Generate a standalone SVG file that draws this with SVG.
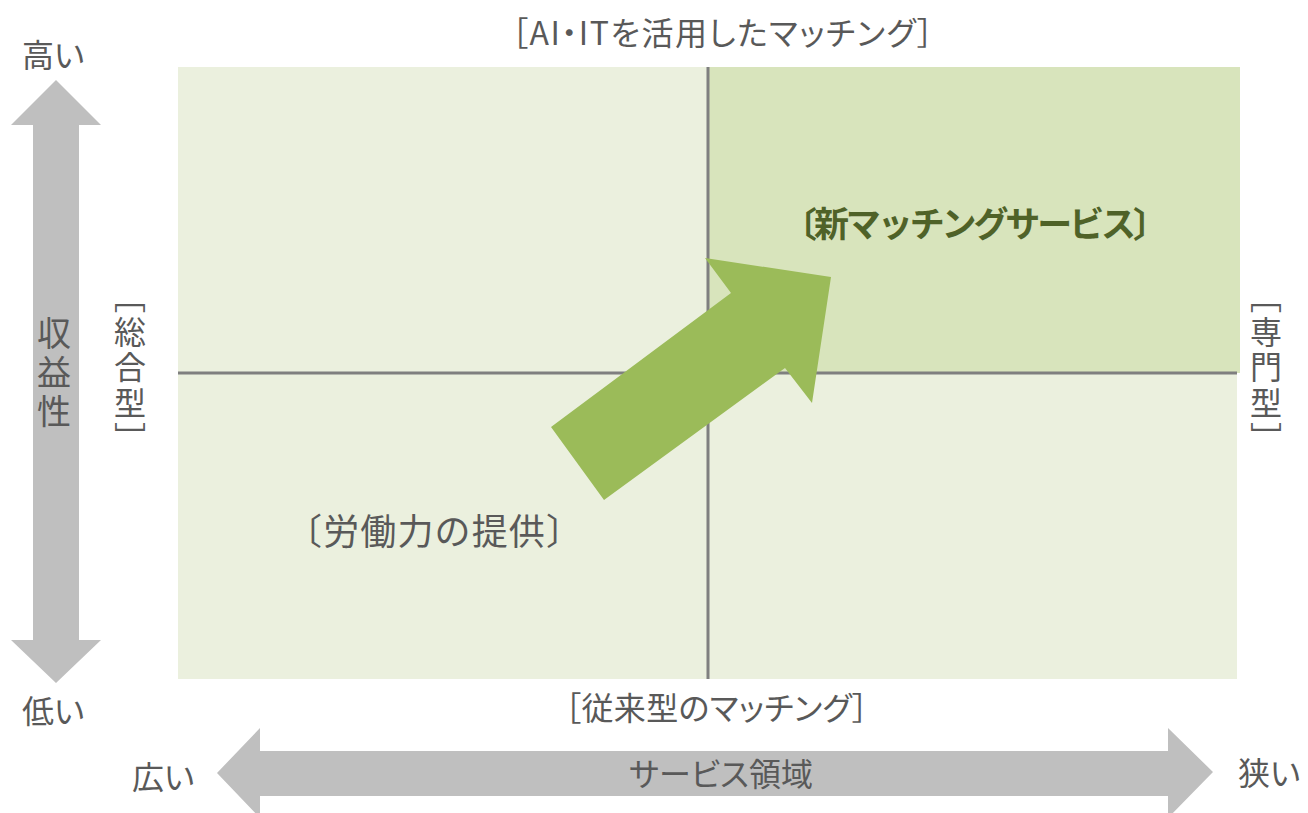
<svg xmlns="http://www.w3.org/2000/svg" width="1308" height="813" viewBox="0 0 1308 813">
<style>
.t{font-family:"Noto Sans CJK JP","Noto Sans",sans-serif;fill:#595959;font-size:32px;font-weight:400;font-feature-settings:"palt"}
.n{font-feature-settings:normal}
.v{writing-mode:vertical-rl;font-feature-settings:"vpal"}
.gray{fill:#bfbfbf}
.ax{stroke:#7f7f7f;stroke-width:3;fill:none}
</style>
<rect width="1308" height="813" fill="#ffffff"/>
<g id="quadrants">
<rect x="178" y="67" width="1059" height="612" fill="#ebf0de"/>
<rect x="708" y="67" width="532" height="306" fill="#d8e4bc"/>
</g>
<g id="axes">
<line class="ax" x1="708" y1="67" x2="708" y2="679"/>
<line class="ax" x1="178" y1="373" x2="1237" y2="373"/>
</g>
<g id="vertical-arrow">
<polygon class="gray" points="56,80 101,125 79,125 79,640 101,640 56,683 11,640 33,640 33,125 11,125"/>
<text class="t v" x="54" y="316" textLength="112" style="font-size:34px">収益性</text>
</g>
<g id="horizontal-arrow">
<polygon class="gray" points="217,773 260,728 260,751 1168,751 1168,728 1213,772 1168,818 1168,796 260,796 260,818"/>
<text class="t" x="721" y="786" text-anchor="middle">サービス領域</text>
</g>
<g id="green-arrow">
<polygon fill="#9bbb59" points="551,427 731,293 705,258 831,277 812,403 785,368 604,500"/>
</g>
<g id="labels">
<text class="t" x="22" y="67">高い</text>
<text class="t" x="22" y="723">低い</text>
<text class="t" x="132" y="789">広い</text>
<text class="t" x="1238" y="785">狭い</text>
<text class="t" x="512" y="45" textLength="421">［AI・ITを活用したマッチング］</text>
<text class="t" x="565" y="720" textLength="303">［従来型のマッチング］</text>
<text class="t v" x="130" y="296" textLength="142">［総合型］</text>
<text class="t v" x="1266" y="296" textLength="142">［専門型］</text>
<text class="t n" x="782" y="237" textLength="386" style="font-size:35px;font-weight:700;fill:#4f6228">〔新マッチングサービス〕</text>
<text class="t n" x="286" y="545" textLength="296" style="font-size:36px">〔労働力の提供〕</text>
</g>
</svg>
